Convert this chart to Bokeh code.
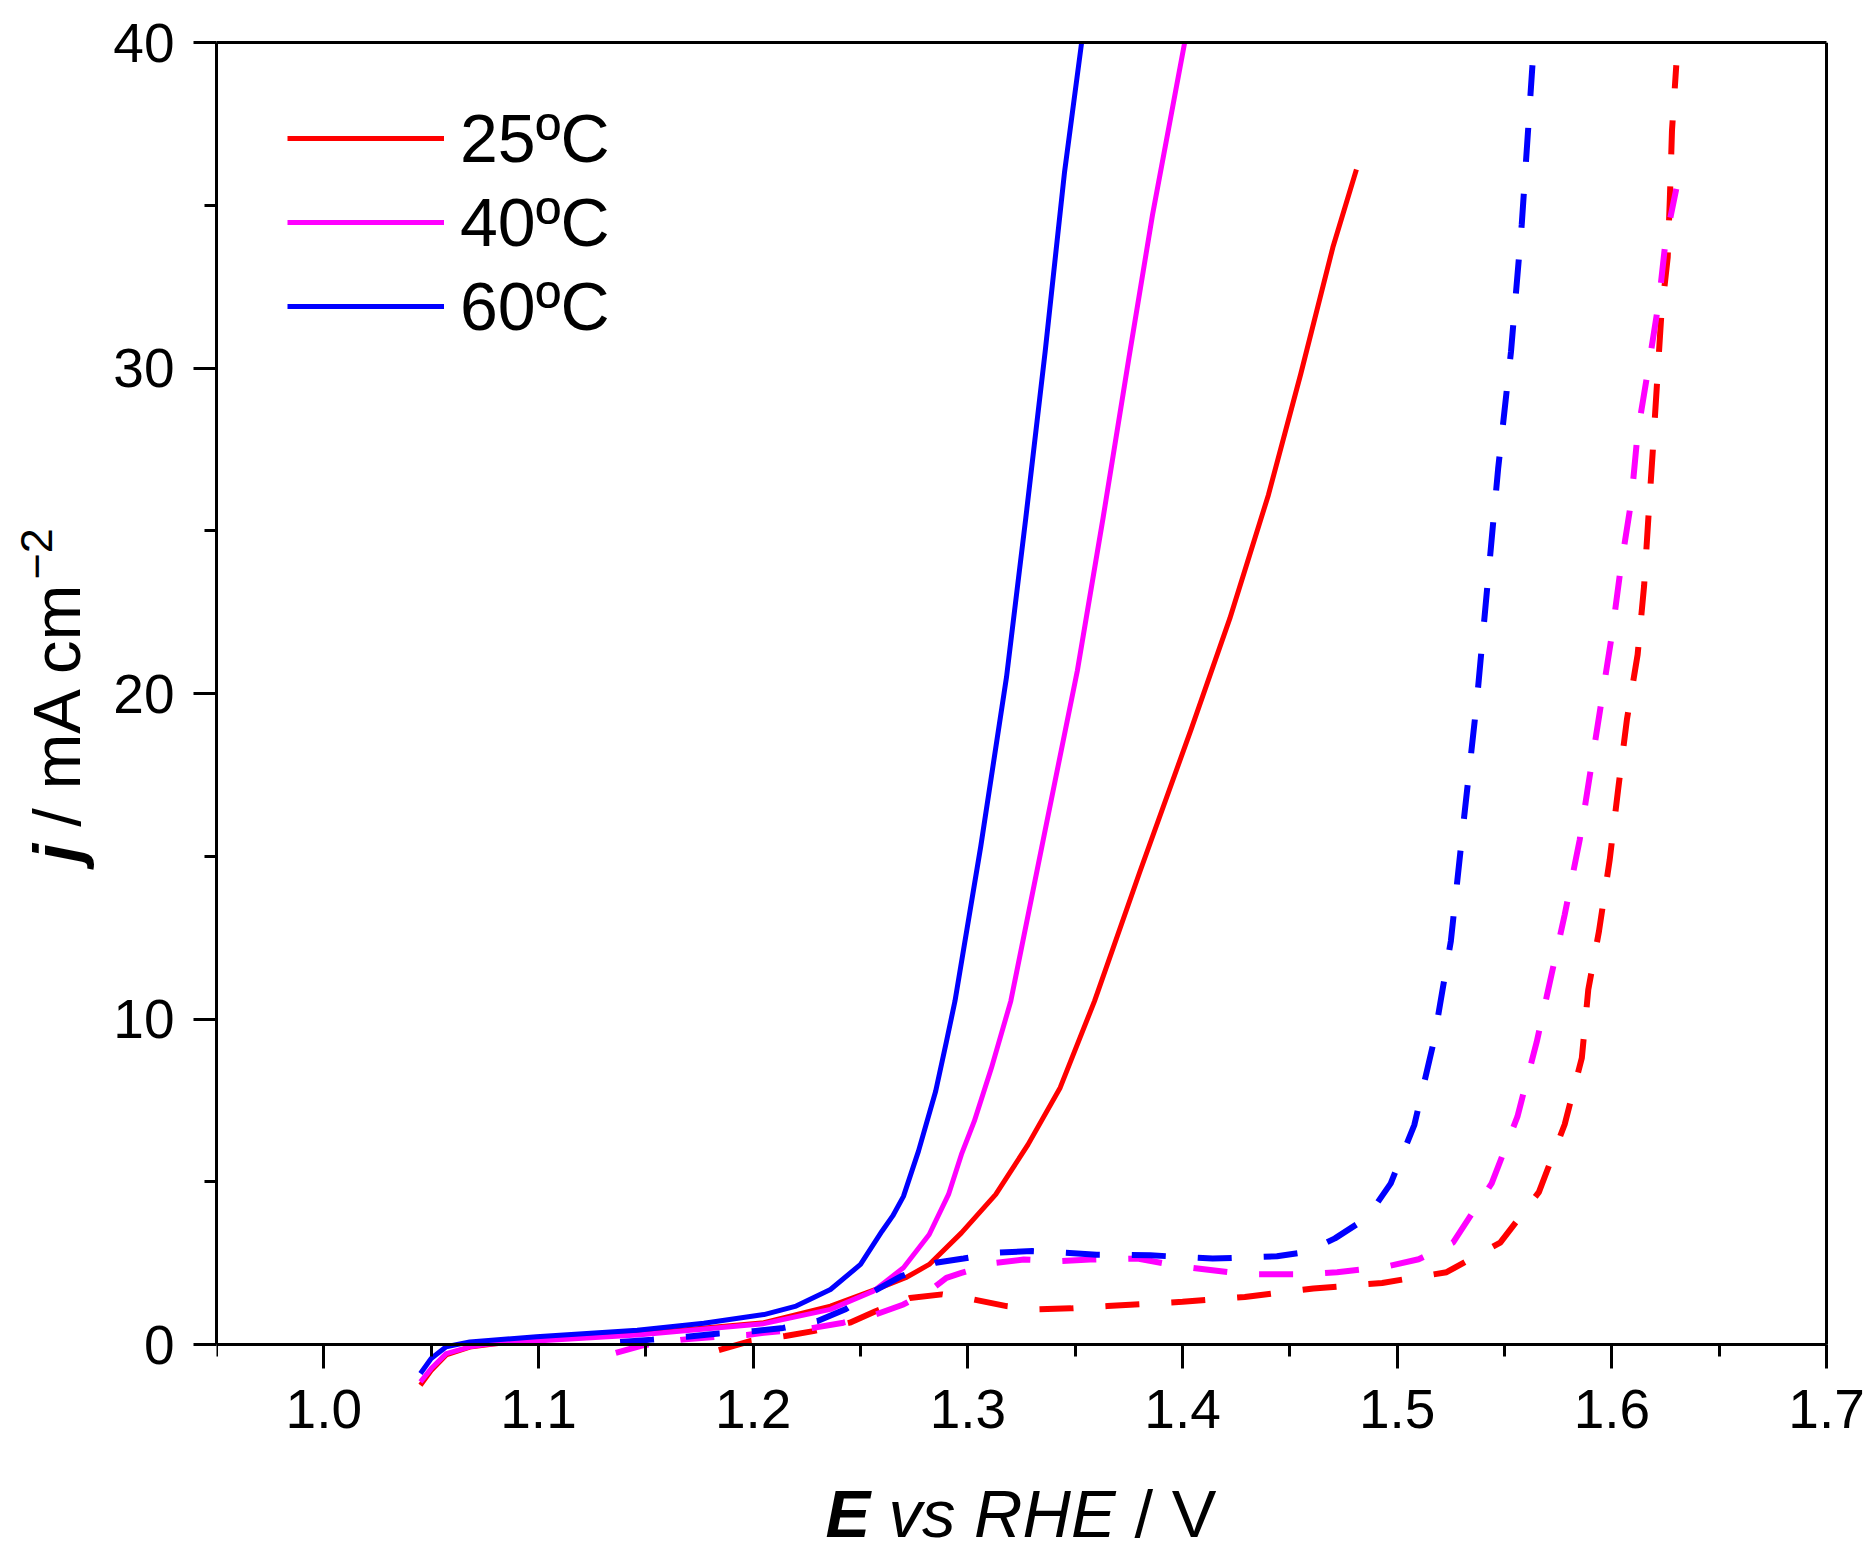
import math
from bokeh.plotting import figure
from bokeh.layouts import column, row
from bokeh.models import (Range1d, FixedTicker, Legend, LegendItem, Label,
                          NumeralTickFormatter, LinearAxis)
from bokeh.embed import file_html
from bokeh.resources import INLINE

# ---------------- data ----------------
# Solid lines
E25 = [1.045, 1.050, 1.057, 1.068, 1.080, 1.099, 1.146, 1.205, 1.236, 1.259, 1.271, 1.282,
       1.297, 1.313, 1.328, 1.343, 1.359, 1.380, 1.404, 1.422, 1.440, 1.455, 1.470, 1.481]
J25 = [-1.25, -0.80, -0.32, -0.08, 0.02, 0.13, 0.32, 0.67, 1.18, 1.74, 2.05, 2.46,
       3.43, 4.61, 6.14, 7.89, 10.55, 14.5, 18.9, 22.3, 26.1, 29.8, 33.7, 36.1]

E40 = [1.045, 1.050, 1.057, 1.068, 1.076, 1.099, 1.146, 1.205, 1.236, 1.256, 1.270, 1.282,
       1.291, 1.297, 1.303, 1.311, 1.320, 1.336, 1.351, 1.363, 1.375, 1.386, 1.401]
J40 = [-1.15, -0.74, -0.28, -0.07, 0.01, 0.11, 0.29, 0.64, 1.08, 1.64, 2.36, 3.38,
       4.61, 5.84, 6.86, 8.5, 10.55, 15.8, 20.7, 25.4, 30.3, 34.7, 40.0]

E60 = [1.045, 1.050, 1.057, 1.068, 1.099, 1.146, 1.177, 1.205, 1.220, 1.236, 1.250, 1.260,
       1.265, 1.270, 1.277, 1.285, 1.290, 1.294, 1.306, 1.318, 1.327, 1.336, 1.345, 1.353]
J60 = [-0.89, -0.43, -0.07, 0.08, 0.24, 0.44, 0.65, 0.92, 1.18, 1.69, 2.46, 3.48,
       3.95, 4.55, 5.94, 7.78, 9.30, 10.55, 15.3, 20.5, 25.4, 30.5, 36.0, 40.0]

# Dashed lines
E25d = [1.184, 1.199, 1.215, 1.228, 1.245, 1.257, 1.273, 1.288, 1.303, 1.318, 1.333, 1.348,
        1.365, 1.400, 1.429, 1.461, 1.493, 1.523, 1.548, 1.566, 1.578, 1.586, 1.589, 1.594,
        1.599, 1.603, 1.607, 1.612, 1.615, 1.617, 1.619, 1.621, 1.623, 1.626, 1.627, 1.628, 1.630]
J25d = [-0.17, 0.11, 0.26, 0.41, 0.67, 1.02, 1.43, 1.54, 1.38, 1.18, 1.08, 1.11,
        1.18, 1.31, 1.46, 1.72, 1.89, 2.22, 3.13, 4.68, 6.76, 8.8, 10.9, 12.7,
        14.9, 17.1, 19.2, 21.2, 23.3, 25.4, 27.4, 29.5, 31.6, 33.4, 35.2, 37.3, 39.3]

E40d = [1.136, 1.149, 1.167, 1.184, 1.197, 1.205, 1.228, 1.242, 1.257, 1.270, 1.284, 1.290,
        1.297, 1.313, 1.326, 1.343, 1.357, 1.379, 1.400, 1.429, 1.459, 1.472, 1.494, 1.510,
        1.526, 1.544, 1.556, 1.565, 1.572, 1.578, 1.585, 1.590, 1.595, 1.600, 1.604, 1.609,
        1.612, 1.617, 1.622, 1.625, 1.630]
J40d = [-0.26, -0.02, 0.15, 0.24, 0.29, 0.36, 0.51, 0.67, 0.92, 1.23, 1.74, 2.05,
        2.20, 2.51, 2.61, 2.56, 2.61, 2.64, 2.39, 2.16, 2.16, 2.22, 2.38, 2.62,
        3.13, 4.95, 7.0, 9.3, 11.4, 13.2, 15.5, 17.6, 19.7, 21.8, 23.8, 25.9,
        28.0, 30.0, 32.1, 33.9, 35.5]

E60d = [1.138, 1.153, 1.169, 1.184, 1.200, 1.214, 1.230, 1.243, 1.255, 1.269, 1.285, 1.298,
        1.314, 1.330, 1.345, 1.360, 1.385, 1.414, 1.444, 1.458, 1.471, 1.486, 1.497, 1.508,
        1.517, 1.525, 1.531, 1.537, 1.542, 1.547, 1.553, 1.558, 1.563]
J60d = [0.08, 0.15, 0.24, 0.34, 0.41, 0.51, 0.72, 1.08, 1.59, 2.10, 2.51, 2.64,
        2.82, 2.87, 2.82, 2.76, 2.74, 2.64, 2.71, 2.85, 3.26, 3.90, 4.95, 6.75,
        9.3, 12.4, 16.1, 19.7, 23.3, 26.9, 30.5, 34.4, 39.3]

labels = ["25ºC", "40ºC", "60ºC"]
colors = ["#FF0000", "#FF00FF", "#0000FF"]

x_major = [1.0, 1.1, 1.2, 1.3, 1.4, 1.5, 1.6, 1.7]
x_minor = [0.95, 1.05, 1.15, 1.25, 1.35, 1.45, 1.55, 1.65]
y_major = [0, 10, 20, 30, 40]
y_minor = [5, 15, 25, 35]
X0, X1, Y0, Y1 = 0.95, 1.7, 0, 40

# ---------------- layout (page pixels) ----------------
PW, PH = 1875, 1557          # whole page
LW = 110                     # left strip holding the y title
BH = 97                      # bottom strip holding the x title
FL, FR, FT, F0 = 214, 1826, 42, 1344   # axis box left/right/top and the y=0 line, page pixels
FBOT = 1452                  # plotting area reaches below the x axis (curves dip under 0,
                             # and the tick labels must not be clipped)
FONT = "Liberation Sans"
MW, MH = PW - LW, PH - BH    # main figure size
UNIT = (F0 - FT) / (Y1 - Y0)         # pixels per mA cm-2
UNITX = (FR - FL) / (X1 - X0)        # pixels per V
Y_LOW = Y0 - (FBOT - F0) / UNIT
X_HIGH = X1 + (PW - FR) / UNITX      # area runs to the page edge so "1.7" is not clipped

p = figure(width=MW, height=MH, x_range=Range1d(X0, X_HIGH), y_range=Range1d(Y_LOW, Y1),
           output_backend="svg", toolbar_location=None,
           min_border_left=FL - LW, min_border_right=0,
           min_border_top=FT, min_border_bottom=MH - FBOT)
p.background_fill_color = "white"
p.border_fill_color = "white"
p.xgrid.visible = False
p.ygrid.visible = False
p.outline_line_color = None

for ax in (p.xaxis[0], p.yaxis[0]):
    ax.axis_line_width = 3
    ax.axis_line_color = "black"
    ax.major_tick_line_width = 3
    ax.minor_tick_line_width = 3
    ax.major_tick_in = 0
    ax.minor_tick_in = 0
    ax.major_label_text_font = FONT
    ax.major_label_text_font_size = "55px"
    ax.major_label_text_color = "black"

p.xaxis.ticker = FixedTicker(ticks=x_major, minor_ticks=x_minor)
p.yaxis.ticker = FixedTicker(ticks=y_major, minor_ticks=y_minor)
p.xaxis.formatter = NumeralTickFormatter(format="0.0")
p.yaxis.formatter = NumeralTickFormatter(format="0")
p.xaxis.fixed_location = Y0
p.xaxis.bounds = (X0, X1)
p.yaxis.bounds = (Y0, Y1)
p.xaxis.major_tick_out = 24
p.xaxis.minor_tick_out = 12
p.yaxis.major_tick_out = 23
p.yaxis.minor_tick_out = 12
p.xaxis.major_label_standoff = 21
p.yaxis.major_label_standoff = 19

# box: top and right edges
top_ax = LinearAxis(ticker=FixedTicker(ticks=[]), bounds=(X0, X1), axis_line_width=3,
                    axis_line_color="black", major_tick_out=0, minor_tick_out=0,
                    major_label_text_font_size="0px")
right_ax = LinearAxis(ticker=FixedTicker(ticks=[]), bounds=(Y0, Y1), fixed_location=X1,
                      axis_line_width=3, axis_line_color="black", major_tick_out=0,
                      minor_tick_out=0, major_label_text_font_size="0px")
p.add_layout(top_ax, "above")
p.add_layout(right_ax, "right")

# ---------------- curves ----------------
SW, DW = 5, 6
solid_sets = [(E25, J25), (E40, J40), (E60, J60)]
dash_sets = [(E25d, J25d), (E40d, J40d), (E60d, J60d)]
solid_r = []
for (e, j), c in zip(solid_sets, colors):
    solid_r.append(p.line(e, j, line_color=c, line_width=SW, line_join="round"))
for (e, j), c in zip(dash_sets, colors):
    p.line(e, j, line_color=c, line_width=DW, line_dash="34 32")

# ---------------- legend ----------------
legend = Legend(items=[LegendItem(label=l, renderers=[r]) for l, r in zip(labels, solid_r)],
                location=(71, FBOT - FT - 306))
legend.padding = 0
legend.margin = 0
legend.spacing = 0
legend.glyph_width = 157
legend.glyph_height = 84
legend.label_height = 84
legend.label_standoff = 16
legend.label_text_font = FONT
legend.label_text_font_size = "68px"
legend.label_text_color = "black"
legend.border_line_alpha = 0
legend.background_fill_alpha = 0
legend.click_policy = "none"
p.add_layout(legend)


# ---------------- axis titles (mixed font styles) in side strips ----------------
def strip(w, h):
    f = figure(width=w, height=h, x_range=Range1d(0, w), y_range=Range1d(0, h),
               x_axis_type=None, y_axis_type=None, output_backend="svg",
               toolbar_location=None, min_border=0, min_border_left=0,
               min_border_right=0, min_border_top=0, min_border_bottom=0)
    f.outline_line_color = None
    f.background_fill_color = "white"
    f.border_fill_color = "white"
    return f


TS = 67
SHIFT = 0.36   # measured drop of the drawn baseline below the anchor, in em
YT_UP = 18     # measured along-text correction for the rotated title

ly = strip(LW, MH)
y_parts = [("j", "bold italic", 867, 80, TS), ("/ mA cm", "normal", 830, 80, TS),
           ("−2", "normal", 574, 52, 45)]
for txt, style, py, px, fs in y_parts:
    ly.add_layout(Label(x=px - SHIFT * fs, y=MH - py + YT_UP, text=txt, text_font=FONT,
                        text_font_size=f"{fs}px", text_font_style=style, angle=math.pi / 2,
                        text_align="left", text_baseline="alphabetic", text_color="black"))

bx = strip(PW, BH)
x_parts = [("E", "bold italic", 825), ("vs RHE", "italic", 888), ("/ V", "normal", 1134)]
for txt, style, px in x_parts:
    bx.add_layout(Label(x=px, y=PH - 1537 + SHIFT * TS, text=txt, text_font=FONT,
                        text_font_size=f"{TS}px", text_font_style=style,
                        text_align="left", text_baseline="alphabetic", text_color="black"))

page = column(row(ly, p, spacing=0), bx, spacing=0)
open("out.html", "w").write(file_html(page, INLINE))
